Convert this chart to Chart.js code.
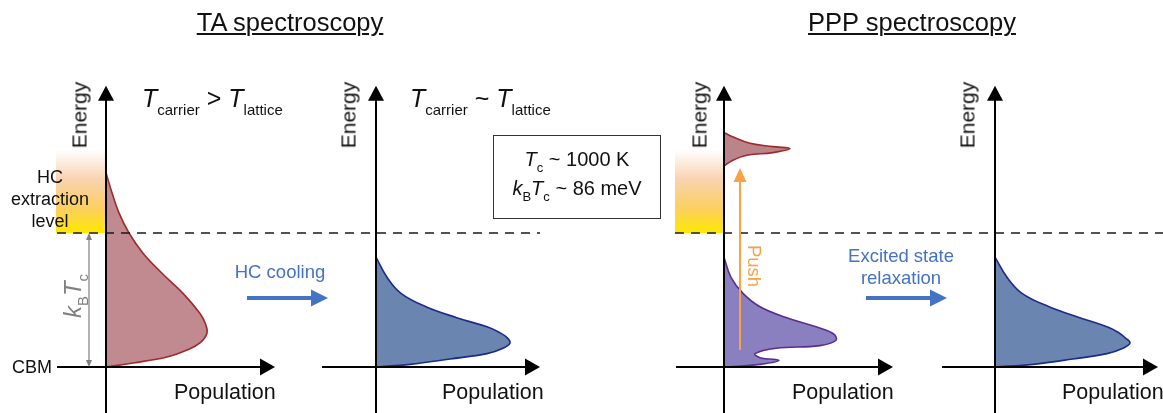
<!DOCTYPE html>
<html>
<head>
<meta charset="utf-8">
<script src="https://cdn.jsdelivr.net/npm/chart.js"></script>
<style>
  body { margin: 0; background: #fff; }
  #wrap { position: relative; width: 1163px; height: 413px; overflow: hidden; background: #fff; }
  #wrap canvas { position: absolute; left: 0; top: 0; }
  .lbl { position: absolute; white-space: nowrap; line-height: 1; color: #111;
         font-family: 'Liberation Sans', Arial, Helvetica, sans-serif; }
  .sb { position: relative; }
  .ttl { text-decoration: underline; text-decoration-thickness: 1.5px; text-underline-offset: 2px; }
</style>
</head>
<body>
<div id="wrap">
  <canvas id="fig" width="1163" height="413"></canvas>
</div>
<script>
// ---------- data (energy in units of kBTc above CBM, population in arb. units) ----------
const hotEnergy      = [0, 0.03, 0.075, 0.127, 0.18, 0.254, 0.33, 0.40, 0.55, 0.70, 0.85, 1.0, 1.15, 1.30, 1.45];
const hotPopulation  = [0, 0.27, 0.61, 0.81, 0.94, 1.01, 0.99, 0.94, 0.77, 0.56, 0.37, 0.23, 0.13, 0.06, 0];

const cooledEnergy     = [0, 0.02, 0.06, 0.10, 0.14, 0.18, 0.22, 0.26, 0.30, 0.37, 0.45, 0.55, 0.67, 0.82];
const cooledPopulation = [0, 0.34, 0.74, 1.11, 1.27, 1.34, 1.31, 1.23, 1.11, 0.80, 0.50, 0.25, 0.11, 0];

const pushedUpperEnergy     = [1.50, 1.54, 1.58, 1.60, 1.63, 1.645, 1.67, 1.72, 1.75];
const pushedUpperPopulation = [0, 0.08, 0.23, 0.49, 0.66, 0.49, 0.26, 0.08, 0];

const pushedLowerEnergy     = [0, 0.02, 0.05, 0.07, 0.10, 0.14, 0.16, 0.20, 0.25, 0.30, 0.37, 0.45, 0.55, 0.67, 0.82];
const pushedLowerPopulation = [0, 0.36, 0.55, 0.36, 0.31, 0.52, 0.96, 1.12, 1.09, 0.92, 0.62, 0.36, 0.19, 0.07, 0];

const relaxedEnergy     = [0, 0.02, 0.06, 0.10, 0.14, 0.18, 0.22, 0.26, 0.30, 0.37, 0.45, 0.55, 0.67, 0.82];
const relaxedPopulation = [0, 0.38, 0.78, 1.12, 1.28, 1.35, 1.30, 1.23, 1.12, 0.84, 0.54, 0.27, 0.12, 0];

const extractionLevel = 1;      // = kBTc above the CBM
const extractionTop = 1.62;
const pushFrom = 0.127, pushTo = 1.485;

// ---------- layout ----------
const W = 1163, H = 413;
const axisPx = [106, 376, 724, 995];   // where population = 0 sits for each panel
const pxPerPop = 100;
const energyMin = -0.343, energyMax = 2.739;

const panels = [
  { x: 'x1', popMin: -0.49, popMax: 1.69 },
  { x: 'x2', popMin: -0.54, popMax: 1.64 },
  { x: 'x3', popMin: -0.48, popMax: 1.69 },
  { x: 'x4', popMin: -0.53, popMax: 1.63 }
];
const axisTop = 2.10;

const pts = (e, p) => e.map((v, i) => ({ x: p[i], y: v }));

function curve(data, axis, fillCol, lineCol) {
  return {
    data: data, xAxisID: axis, yAxisID: 'y',
    showLine: true, fill: 'shape', tension: 0.4,
    backgroundColor: fillCol, borderColor: lineCol, borderWidth: 1.6,
    pointRadius: 0
  };
}

function arrowHead(ctx, x, y, dx, dy, len, half) {
  // tip at (x,y), pointing along (dx,dy)
  const nx = -dy, ny = dx;
  ctx.beginPath();
  ctx.moveTo(x, y);
  ctx.lineTo(x - dx * len + nx * half, y - dy * len + ny * half);
  ctx.lineTo(x - dx * len - nx * half, y - dy * len - ny * half);
  ctx.closePath();
  ctx.fill();
}

const decor = {
  id: 'decor',
  beforeDatasetsDraw(chart) {
    const ctx = chart.ctx, ys = chart.scales.y;
    // HC extraction level gradient boxes
    [['x1', -0.50], ['x3', -0.49]].forEach(([id, from]) => {
      const xs = chart.scales[id];
      const l = xs.getPixelForValue(from), r = xs.getPixelForValue(0);
      const t = ys.getPixelForValue(extractionTop), b = ys.getPixelForValue(extractionLevel);
      const g = ctx.createLinearGradient(0, t, 0, b);
      g.addColorStop(0, 'rgba(255,255,255,1)');
      g.addColorStop(0.35, '#f9d3b0');
      g.addColorStop(0.7, '#fbcf62');
      g.addColorStop(1, '#ffe800');
      ctx.fillStyle = g;
      ctx.fillRect(l, t, r - l, b - t);
    });
  },
  afterDatasetsDraw(chart) {
    const ctx = chart.ctx, ys = chart.scales.y;
    ctx.save();
    // dashed extraction level
    ctx.strokeStyle = '#1a1a1a'; ctx.lineWidth = 1.6; ctx.setLineDash([9, 7]);
    [['x1', -0.49, 4.34], ['x3', -0.49, 4.39]].forEach(([id, a, b]) => {
      const xs = chart.scales[id], y = ys.getPixelForValue(extractionLevel);
      ctx.beginPath();
      ctx.moveTo(xs.getPixelForValue(a), y);
      ctx.lineTo(xs.getPixelForValue(b), y);
      ctx.stroke();
    });
    ctx.setLineDash([]);

    // axes with arrows
    ctx.strokeStyle = '#000'; ctx.fillStyle = '#000'; ctx.lineWidth = 2;
    panels.forEach(p => {
      const xs = chart.scales[p.x];
      const x0 = xs.getPixelForValue(0), y0 = ys.getPixelForValue(0);
      const xEnd = xs.getPixelForValue(p.popMax), yEnd = ys.getPixelForValue(axisTop);
      ctx.beginPath();
      ctx.moveTo(x0, ys.getPixelForValue(energyMin));
      ctx.lineTo(x0, yEnd + 10);
      ctx.moveTo(xs.getPixelForValue(p.popMin), y0);
      ctx.lineTo(xEnd - 10, y0);
      ctx.stroke();
      arrowHead(ctx, x0, yEnd, 0, -1, 15, 8);
      arrowHead(ctx, xEnd, y0, 1, 0, 15, 8.5);
    });

    // kBTc double arrow
    {
      const xs = chart.scales.x1, x = xs.getPixelForValue(-0.17);
      const y0 = ys.getPixelForValue(0), y1 = ys.getPixelForValue(extractionLevel);
      ctx.strokeStyle = '#808080'; ctx.fillStyle = '#808080'; ctx.lineWidth = 1.2;
      ctx.beginPath(); ctx.moveTo(x, y1 + 5); ctx.lineTo(x, y0 - 5); ctx.stroke();
      arrowHead(ctx, x, y1, 0, -1, 7, 3);
      arrowHead(ctx, x, y0, 0, 1, 7, 3);
    }

    // blue transition arrows
    ctx.strokeStyle = '#4472c4'; ctx.fillStyle = '#4472c4'; ctx.lineWidth = 4;
    [['x1', 1.41, 2.22], ['x3', 1.42, 2.23]].forEach(([id, a, b]) => {
      const xs = chart.scales[id], y = ys.getPixelForValue(0.515);
      const xa = xs.getPixelForValue(a), xb = xs.getPixelForValue(b);
      ctx.beginPath(); ctx.moveTo(xa, y); ctx.lineTo(xb - 14, y); ctx.stroke();
      arrowHead(ctx, xb, y, 1, 0, 17, 8.5);
    });

    // push arrow
    {
      const xs = chart.scales.x3, x = xs.getPixelForValue(0.16);
      const ya = ys.getPixelForValue(pushFrom), yb = ys.getPixelForValue(pushTo);
      ctx.strokeStyle = '#f7a246'; ctx.fillStyle = '#f7a246'; ctx.lineWidth = 2;
      ctx.beginPath(); ctx.moveTo(x, ya); ctx.lineTo(x, yb + 10); ctx.stroke();
      arrowHead(ctx, x, yb, 0, -1, 14, 6.5);
    }
    ctx.restore();
  }
};

const scales = { y: { type: 'linear', display: false, min: energyMin, max: energyMax } };
panels.forEach((p, i) => {
  scales[p.x] = { type: 'linear', axis: 'x', display: false,
                  min: -axisPx[i] / pxPerPop, max: (W - axisPx[i]) / pxPerPop };
});

new Chart(document.getElementById('fig'), {
  type: 'scatter',
  data: {
    datasets: [
      curve(pts(hotEnergy, hotPopulation), 'x1', '#c08a90', '#9e2a2b'),
      curve(pts(cooledEnergy, cooledPopulation), 'x2', '#6a86b0', '#1c2a8c'),
      curve(pts(pushedUpperEnergy, pushedUpperPopulation), 'x3', '#bb848b', '#9e2a2b'),
      curve(pts(pushedLowerEnergy, pushedLowerPopulation), 'x3', '#8a80bf', '#5a2d91'),
      curve(pts(relaxedEnergy, relaxedPopulation), 'x4', '#6a86b0', '#1c2a8c')
    ]
  },
  options: {
    responsive: false,
    animation: false,
    layout: { padding: 0 },
    scales: scales,
    plugins: { legend: { display: false }, tooltip: { enabled: false } }
  },
  plugins: [decor]
});

// ---------- text ----------
const wrap = document.getElementById('wrap');
function addText(t) {
  const el = document.createElement('div');
  el.className = 'lbl' + (t.cls ? ' ' + t.cls : '');
  el.innerHTML = t.html;
  el.style.fontSize = t.size + 'px';
  if (t.color) el.style.color = t.color;
  if (t.rot) {
    el.style.left = t.cx + 'px';
    el.style.top = t.cy + 'px';
    el.style.transform = 'translate(-50%,-50%) rotate(' + t.rot + 'deg)';
  } else {
    el.style.top = (t.base - 0.846 * t.size) + 'px';
    if (t.align === 'center') { el.style.left = t.x + 'px'; el.style.transform = 'translateX(-50%)'; el.style.textAlign = 'center'; }
    else if (t.align === 'right') { el.style.right = (W - t.x) + 'px'; }
    else el.style.left = t.x + 'px';
  }
  wrap.appendChild(el);
}
const sub = (s, size, dy) => '<span class="sb" style="font-size:' + size + 'px;top:' + dy + 'px">' + s + '</span>';

addText({ html: 'TA spectroscopy', x: 290, base: 32, size: 25.5, align: 'center', cls: 'ttl' });
addText({ html: 'PPP spectroscopy', x: 912, base: 32, size: 25.5, align: 'center', cls: 'ttl' });

addText({ html: '<i>T</i>' + sub('carrier', 15, 8) + ' &gt; <i>T</i>' + sub('lattice', 15, 8), x: 142, base: 107, size: 25 });
addText({ html: '<i>T</i>' + sub('carrier', 15, 8) + ' ~ <i>T</i>' + sub('lattice', 15, 8), x: 410, base: 107, size: 25 });

[79, 348, 699, 967].forEach(cx => addText({ html: 'Energy', cx: cx, cy: 115, size: 21, rot: -90 }));
[174, 442, 792, 1062].forEach(x => addText({ html: 'Population', x: x, base: 400, size: 21.5 }));

addText({ html: 'CBM', x: 52, base: 373, size: 18, align: 'right' });
addText({ html: 'HC', x: 50, base: 183, size: 18, align: 'center' });
addText({ html: 'extraction', x: 50, base: 205, size: 18, align: 'center' });
addText({ html: 'level', x: 50, base: 227, size: 18, align: 'center' });

addText({ html: '<i>k</i>' + sub('B', 15, 7) + '<i>T</i>' + sub('c', 15, 7), cx: 73, cy: 296, size: 24, rot: -90, color: '#808080' });

addText({ html: 'HC cooling', x: 280, base: 279, size: 18.5, align: 'center', color: '#4472c4' });
addText({ html: 'Excited state', x: 901, base: 263, size: 18.5, align: 'center', color: '#4472c4' });
addText({ html: 'relaxation', x: 901, base: 285, size: 18.5, align: 'center', color: '#4472c4' });
addText({ html: 'Push', cx: 754, cy: 266, size: 18.5, rot: 90, color: '#f7a246' });

// box with Tc values
const box = document.createElement('div');
box.style.cssText = 'position:absolute;left:493px;top:135px;width:166px;height:82px;border:1px solid #333;';
wrap.appendChild(box);
addText({ html: '<i>T</i>' + sub('c', 13, 6) + ' ~ 1000 K', x: 577, base: 166, size: 20, align: 'center' });
addText({ html: '<i>k</i>' + sub('B', 13, 6) + '<i>T</i>' + sub('c', 13, 6) + ' ~ 86 meV', x: 577, base: 195, size: 20, align: 'center' });
</script>
</body>
</html>
